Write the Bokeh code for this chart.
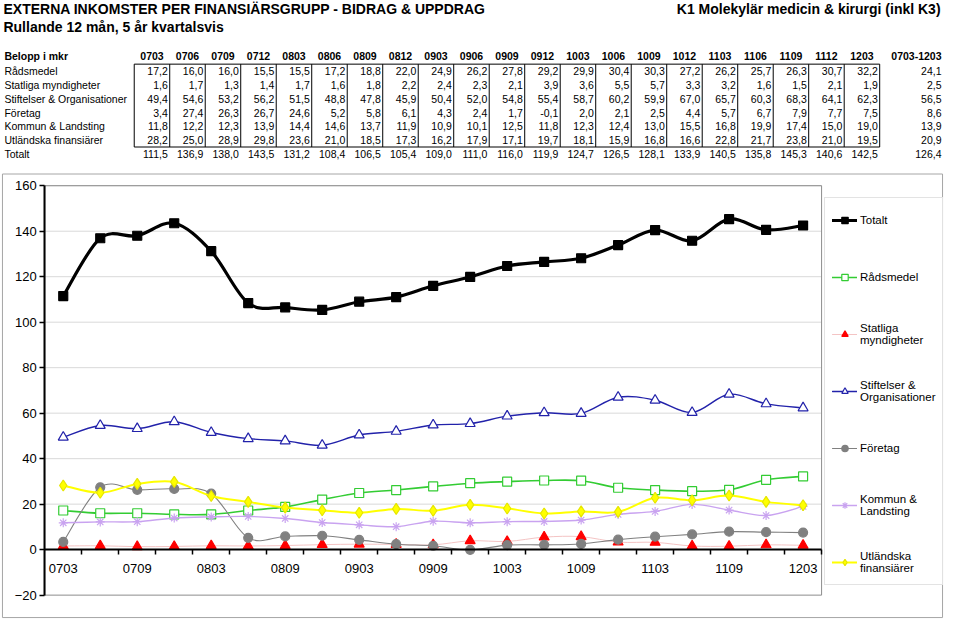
from bokeh.plotting import figure
from bokeh.models import ColumnDataSource, Range1d, FixedTicker, Legend, LegendItem, LinearAxis
from bokeh.core.properties import value
from bokeh.embed import file_html
from bokeh.resources import INLINE

# ---------------- data ----------------
quarters = ["0703", "0706", "0709", "0712", "0803", "0806", "0809", "0812", "0903", "0906", "0909",
            "0912", "1003", "1006", "1009", "1012", "1103", "1106", "1109", "1112", "1203"]
summary_label = "0703-1203"

radsmedel = [17.2, 16.0, 16.0, 15.5, 15.5, 17.2, 18.8, 22.0, 24.9, 26.2, 27.8, 29.2, 29.9, 30.4, 30.3, 27.2, 26.2, 25.7, 26.3, 30.7, 32.2]
statliga = [1.6, 1.7, 1.3, 1.4, 1.7, 1.6, 1.8, 2.2, 2.4, 2.3, 2.1, 3.9, 3.6, 5.5, 5.7, 3.3, 3.2, 1.6, 1.5, 2.1, 1.9]
stiftelser = [49.4, 54.6, 53.2, 56.2, 51.5, 48.8, 47.8, 45.9, 50.4, 52.0, 54.8, 55.4, 58.7, 60.2, 59.9, 67.0, 65.7, 60.3, 68.3, 64.1, 62.3]
foretag = [3.4, 27.4, 26.3, 26.7, 24.6, 5.2, 5.8, 6.1, 4.3, 2.4, 1.7, -0.1, 2.0, 2.1, 2.5, 4.4, 5.7, 6.7, 7.9, 7.7, 7.5]
kommun = [11.8, 12.2, 12.3, 13.9, 14.4, 14.6, 13.7, 11.9, 10.9, 10.1, 12.5, 11.8, 12.3, 12.4, 13.0, 15.5, 16.8, 19.9, 17.4, 15.0, 19.0]
utlandska = [28.2, 25.0, 28.9, 29.8, 23.6, 21.0, 18.5, 17.3, 16.2, 17.9, 17.1, 19.7, 18.1, 15.9, 16.8, 16.6, 22.8, 21.7, 23.8, 21.0, 19.5]
totalt = [111.5, 136.9, 138.0, 143.5, 131.2, 108.4, 106.5, 105.4, 109.0, 111.0, 116.0, 119.9, 124.7, 126.5, 128.1, 133.9, 140.5, 135.8, 145.3, 140.6, 142.5]
summary = [24.1, 2.5, 56.5, 8.6, 13.9, 20.9, 126.4]

row_names = ["Rådsmedel", "Statliga myndigheter", "Stiftelser & Organisationer", "Företag",
             "Kommun & Landsting", "Utländska finansiärer", "Totalt"]
legend_names = ["Totalt", "Rådsmedel", "Statliga\nmyndigheter", "Stiftelser &\nOrganisationer",
                "Företag", "Kommun &\nLandsting", "Utländska\nfinansiärer"]
y_ticks = [-20, 0, 20, 40, 60, 80, 100, 120, 140, 160]
y_min, y_max = -20, 160

title1 = "EXTERNA INKOMSTER PER FINANSIÄRSGRUPP - BIDRAG & UPPDRAG"
title2 = "Rullande 12 mån, 5 år kvartalsvis"
title_right = "K1 Molekylär medicin & kirurgi (inkl K3)"
header_label = "Belopp i mkr"

FONT = "Liberation Sans"
REF_W, REF_H = 960, 635      # layout is described in reference-pixel coordinates
PAGE_W, PAGE_H = 944, 619


def fmt(v):
    return f"{v:.1f}".replace(".", ",")


p = figure(width=PAGE_W, height=PAGE_H, x_range=Range1d(0, REF_W), y_range=Range1d(REF_H, 0),
           output_backend="svg", toolbar_location=None, min_border=0,
           x_axis_location=None, y_axis_location=None)
p.grid.visible = False
p.outline_line_color = None
p.background_fill_color = "#ffffff"
p.border_fill_color = "#ffffff"

# ---------------- titles ----------------
p.text(x=[3, 3], y=[9, 27], text=[title1, title2], text_font=value(FONT), text_font_size="14px",
       text_font_style="bold", text_baseline="middle", text_align="left", text_color="#000000")
p.text(x=[956], y=[9], text=[title_right], text_font=value(FONT), text_font_size="14px",
       text_font_style="bold", text_baseline="middle", text_align="right", text_color="#000000")

# ---------------- table ----------------
L, W = 136.0, 36.1
nq = len(quarters)
row_y = [72.3 + 14.2 * k for k in range(7)]
header_y = 56.5
box_top, box_bot = 65.3, 150.3
sum_x = 957
TF = "10.5px"

hx = [L + (i + 0.5) * W for i in range(nq)]
p.text(x=hx, y=[header_y] * nq, text=quarters, text_font=value(FONT), text_font_size=TF,
       text_font_style="bold", text_baseline="middle", text_align="center")
p.text(x=[sum_x], y=[header_y], text=[summary_label], text_font=value(FONT), text_font_size=TF,
       text_font_style="bold", text_baseline="middle", text_align="right")
p.text(x=[4], y=[header_y], text=[header_label], text_font=value(FONT), text_font_size=TF,
       text_font_style="bold", text_baseline="middle", text_align="left")
p.text(x=[4] * 7, y=row_y, text=row_names, text_font=value(FONT), text_font_size=TF,
       text_baseline="middle", text_align="left")

rows = [radsmedel, statliga, stiftelser, foretag, kommun, utlandska, totalt]
cx, cy, ct = [], [], []
for r, vals in enumerate(rows):
    for i, v in enumerate(vals):
        cx.append(L + (i + 1) * W - 2)
        cy.append(row_y[r])
        ct.append(fmt(v))
    cx.append(sum_x)
    cy.append(row_y[r])
    ct.append(fmt(summary[r]))
p.text(x="x", y="y", text="t", source=ColumnDataSource(dict(x=cx, y=cy, t=ct)),
       text_font=value(FONT), text_font_size=TF, text_baseline="middle", text_align="right")

p.quad(left=[L], right=[L + nq * W], top=[box_top], bottom=[box_bot], fill_color=None,
       line_color="#000000", line_width=1)
vx = [L + k * W for k in range(1, nq)]
p.segment(x0=vx, x1=vx, y0=[box_top] * len(vx), y1=[box_bot] * len(vx), line_color="#000000", line_width=1)

# ---------------- chart area ----------------
p.quad(left=[2], right=[958], top=[178], bottom=[633], fill_color=None, line_color="#a6a6a6", line_width=1)

PL, PR, PT, PB = 45.0, 835.0, 190.0, 610.0   # plot-area box in reference pixels
qw = (PR - PL) / nq
vpp = (PB - PT) / (y_max - y_min)
p.extra_x_ranges = {"q": Range1d(-0.5 - PL / qw, -0.5 + (REF_W - PL) / qw)}
p.extra_y_ranges = {"v": Range1d(y_min - (REF_H - PB) / vpp, y_max + PT / vpp)}
XR, YR = "q", "v"
xi = list(range(nq))

gy = [t for t in y_ticks if t > 0]
p.segment(x0=[-0.5] * len(gy), x1=[nq - 0.5] * len(gy), y0=gy, y1=gy, line_color="#d9d9d9",
          line_width=1, x_range_name=XR, y_range_name=YR)
p.quad(left=[-0.5], right=[nq - 0.5], bottom=[y_min], top=[y_max], fill_color=None,
       line_color="#8c8c8c", line_width=1, x_range_name=XR, y_range_name=YR)


def bez(xs, ys):
    n = len(xs)
    d = dict(x0=[], y0=[], x1=[], y1=[], cx0=[], cy0=[], cx1=[], cy1=[])
    for i in range(n - 1):
        a = i - 1 if i > 0 else i
        b = i + 2 if i + 2 < n else i + 1
        d["x0"].append(xs[i]); d["y0"].append(ys[i])
        d["x1"].append(xs[i + 1]); d["y1"].append(ys[i + 1])
        d["cx0"].append(xs[i] + (xs[i + 1] - xs[a]) / 6.0)
        d["cy0"].append(ys[i] + (ys[i + 1] - ys[a]) / 6.0)
        d["cx1"].append(xs[i + 1] - (xs[b] - xs[i]) / 6.0)
        d["cy1"].append(ys[i + 1] - (ys[b] - ys[i]) / 6.0)
    return ColumnDataSource(d)


series = [
    (radsmedel, "#33cc33", 1.6, "square", 9, "#ffffff", "#33cc33"),
    (statliga, "#f4c4c4", 1.0, "triangle", 10, "#ff0000", "#ff0000"),
    (stiftelser, "#2222aa", 1.4, "triangle", 10, "#ffffff", "#2222aa"),
    (foretag, "#808080", 1.1, "circle", 9, "#808080", "#808080"),
    (kommun, "#c9a3f0", 1.4, "asterisk", 9, None, "#c9a3f0"),
    (utlandska, "#ffff00", 2.0, "diamond", 11, "#ffff00", "#e6e600"),
    (totalt, "#000000", 3.2, "square", 9, "#000000", "#000000"),
]
items = {}
for vals, lc, lw, mk, sz, fc, mlc in series:
    lr = p.bezier(x0="x0", y0="y0", x1="x1", y1="y1", cx0="cx0", cy0="cy0", cx1="cx1", cy1="cy1",
                  source=bez(xi, vals), line_color=lc, line_width=lw, line_cap="round",
                  x_range_name=XR, y_range_name=YR)
    sr = p.scatter(x=xi, y=vals, marker=mk, size=sz, fill_color=fc, line_color=mlc, line_width=1.2,
                   x_range_name=XR, y_range_name=YR)
    items[id(vals)] = [lr, sr]

yax = LinearAxis(x_range_name=XR, y_range_name=YR, fixed_location=-0.5, bounds=(y_min, y_max),
                 ticker=FixedTicker(ticks=y_ticks))
yax.axis_line_color = "#000000"
yax.axis_line_width = 2
yax.major_tick_line_color = "#000000"
yax.major_tick_line_width = 1.5
yax.major_tick_out = 5
yax.major_tick_in = 0
yax.minor_tick_line_color = None
yax.major_label_text_font = FONT
yax.major_label_text_font_size = "13px"
yax.major_label_text_color = "#000000"
yax.major_label_standoff = 3
p.add_layout(yax, "left")

xax = LinearAxis(x_range_name=XR, y_range_name=YR, fixed_location=0, bounds=(-0.5, nq - 0.5),
                 ticker=FixedTicker(ticks=xi[::2], minor_ticks=[i + 0.5 for i in xi]))
xax.major_label_overrides = {i: quarters[i] for i in xi[::2]}
xax.axis_line_color = "#000000"
xax.axis_line_width = 2
xax.major_tick_out = 0
xax.major_tick_in = 0
xax.minor_tick_line_color = "#000000"
xax.minor_tick_line_width = 1.5
xax.minor_tick_out = 5
xax.minor_tick_in = 0
xax.major_label_text_font = FONT
xax.major_label_text_font_size = "13px"
xax.major_label_text_color = "#000000"
xax.major_label_standoff = 9
p.add_layout(xax, "below")

# legend (location = left, bottom in screen pixels from the frame's lower-left corner)
sx, sy = PAGE_W / REF_W, PAGE_H / REF_H
order = [totalt, radsmedel, statliga, stiftelser, foretag, kommun, utlandska]
legend = Legend(items=[LegendItem(label=n, renderers=items[id(v)]) for n, v in zip(legend_names, order)],
                location=(838 * sx, PAGE_H - 600 * sy), orientation="vertical")
legend.label_text_font = FONT
legend.label_text_font_size = "11.5px"
legend.label_text_color = "#000000"
legend.border_line_color = "#c8c8c8"
legend.background_fill_color = "#ffffff"
legend.glyph_width = 25
legend.glyph_height = 16
legend.label_height = 30
legend.label_standoff = 3
legend.spacing = 27
legend.padding = 7
legend.margin = 0
legend.label_text_line_height = 1.15
p.add_layout(legend)

open("out.html", "w").write(file_html(p, INLINE))
